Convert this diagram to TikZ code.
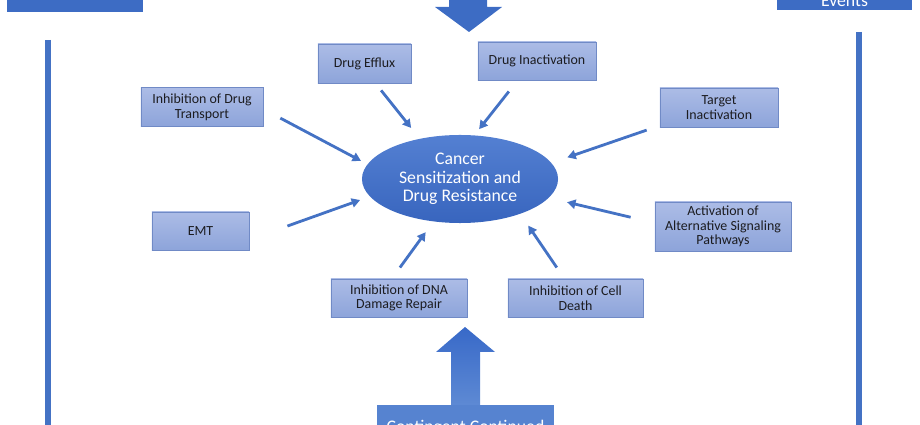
\documentclass[tikz,border=0pt]{standalone}
\usepackage{fontspec}
\setmainfont{Carlito}
\usetikzlibrary{arrows.meta,shapes.geometric}
\definecolor{bluedark}{RGB}{61,108,196}
\definecolor{bluemid}{RGB}{68,114,196}
\definecolor{bluelight}{RGB}{86,131,208}
\definecolor{uptop}{RGB}{56,105,200}
\definecolor{upbot}{RGB}{94,138,212}
\definecolor{boxtop}{RGB}{172,188,230}
\definecolor{boxbot}{RGB}{141,164,218}
\definecolor{boxline}{RGB}{112,138,198}
\definecolor{elltop}{RGB}{84,128,210}
\definecolor{ellbot}{RGB}{56,101,190}
\definecolor{boxtext}{RGB}{28,28,32}

\begin{document}
\begin{tikzpicture}[x=0.025cm, y=-0.025cm,
    box/.style={draw=boxline, line width=0.6pt, top color=boxtop, bottom color=boxbot,
        inner sep=0pt, align=center, text=boxtext, font=\fontsize{9.9}{10.4}\selectfont},
    conn/.style={draw=bluemid, line width=2pt, -{Triangle[length=6pt,width=6.5pt]}},
    bigtext/.style={text=white, font=\fontsize{12.6}{13}\selectfont}]
    \useasboundingbox (0,0) rectangle (920,425);
    \clip (0,0) rectangle (920,425);

    \draw[bluemid, line width=4.3pt] (48,40) -- (48,440);
    \draw[bluemid, line width=4.3pt] (859,32) -- (859,440);

    \fill[bluedark] (7,-20) rectangle (143,12);
    \fill[bluedark] (777,-20) rectangle (912,10);
    \node[bigtext, anchor=base] (evt) at (844.5,7) {Events};

    \fill[bluedark] (449,-10) -- (487,-10) -- (487,7) -- (502,7) -- (469,32) -- (435,7) -- (449,7) -- cycle;
    \shade[top color=uptop, bottom color=upbot] (465,327) -- (495,352) -- (480,352) -- (480,406) -- (451,406) -- (451,352) -- (436,352) -- cycle;

    \fill[bluelight] (377,405) rectangle (554,460);
    \node[bigtext, anchor=base] (cnt) at (465.5,433) {Contingent Continued};

    \node[ellipse, top color=elltop, bottom color=ellbot, minimum width=4.9cm, minimum height=2.2cm,
        inner sep=0pt, outer sep=0pt, align=center, bigtext] (ell) at (460,179) {Cancer\\Sensitization and\\Drug Resistance};

    \node[box, minimum width=3.05cm, minimum height=0.96cm] (dtr) at (202,107) {Inhibition of Drug\\Transport};
    \node[box, minimum width=2.325cm, minimum height=0.975cm] (def) at (364.5,63.5) {Drug Efflux};
    \node[box, minimum width=2.95cm, minimum height=0.95cm] (din) at (537,61) {Drug Inactivation};
    \node[box, minimum width=2.95cm, minimum height=0.975cm] (tgt) at (719,107.5) {Target\\Inactivation};
    \node[box, minimum width=2.425cm, minimum height=0.95cm] (emt) at (200.5,231) {EMT};
    \node[box, minimum width=3.4cm, minimum height=1.225cm] (alt) at (723,226.5) {Activation of\\Alternative Signaling\\Pathways};
    \node[box, minimum width=3.4cm, minimum height=0.95cm] (dna) at (399,298) {Inhibition of DNA\\Damage Repair};
    \node[box, minimum width=3.375cm, minimum height=0.95cm] (cde) at (575.5,298) {Inhibition of Cell\\Death};

    \draw[conn, shorten <=13.6pt, shorten >=5.3pt] (dtr.-2) -- (ell.171);
    \draw[conn, shorten <=6.3pt, shorten >=9.9pt] (def.-61) -- (ell.135);
    \draw[conn, shorten <=10pt, shorten >=5.7pt] (din.-135) -- (ell.72);
    \draw[conn, shorten <=9.7pt, shorten >=12.1pt] (tgt.-163) -- (ell.10);
    \draw[conn, shorten <=28.7pt, shorten >=7.5pt] (emt.-10) -- (ell.191);
    \draw[conn, shorten <=17.5pt, shorten >=13.5pt] (alt.177) -- (ell.-12);
    \draw[conn, shorten <=9.7pt, shorten >=9.5pt] (dna.110) -- (ell.-122);
    \draw[conn, shorten <=9.5pt, shorten >=10.2pt] (cde.120) -- (ell.-30);
\end{tikzpicture}
\end{document}
